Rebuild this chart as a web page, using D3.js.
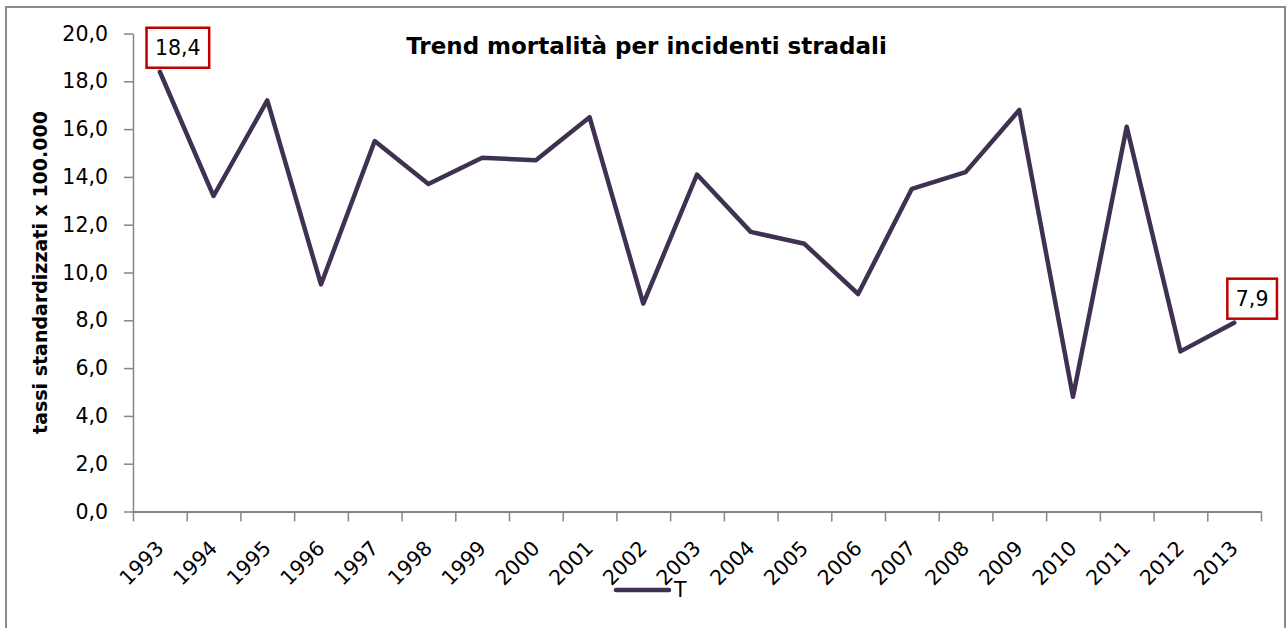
<!DOCTYPE html>
<html lang="it">
<head>
<meta charset="utf-8">
<title>Trend mortalità per incidenti stradali</title>
<script src="https://cdn.jsdelivr.net/npm/d3@7"></script>
<style>
  html, body { margin: 0; padding: 0; background: #fff; }
  svg { display: block; }
  text { font-family: "DejaVu Sans", Verdana, sans-serif; fill: #000; }
</style>
</head>
<body>
<svg id="chart" width="1287" height="628"></svg>
<script>
// Anni e tassi standardizzati di mortalità (x 100.000)
const years = ["1993","1994","1995","1996","1997","1998","1999","2000","2001","2002","2003",
               "2004","2005","2006","2007","2008","2009","2010","2011","2012","2013"];
const rates = [18.4, 13.2, 17.2, 9.5, 15.5, 13.7, 14.8, 14.7, 16.5, 8.7, 14.1,
               11.7, 11.2, 9.1, 13.5, 14.2, 16.8, 4.8, 16.1, 6.7, 7.9];
const yTicks = [0, 2, 4, 6, 8, 10, 12, 14, 16, 18, 20];
const labelledYears = ["1993", "2013"];
const seriesName = "T";
const title = "Trend mortalità per incidenti stradali";
const yTitle = "tassi standardizzati x 100.000";

const W = 1287, H = 628;
const plot = { left: 133, right: 1261, top: 33.5, bottom: 511.5 };
const lineColor = "#3f3151";
const axisColor = "#868686";
const fmt = v => v.toFixed(1).replace(".", ",");

const svg = d3.select("#chart");

// cornice esterna
svg.append("rect")
  .attr("x", 6).attr("y", 7)
  .attr("width", W - 8).attr("height", H + 20)
  .attr("fill", "none").attr("stroke", "#8a8a8a").attr("stroke-width", 2);

const x = d3.scaleBand().domain(years).range([plot.left, plot.right]).padding(0);
const xEdges = d3.scaleLinear().domain([0, years.length]).range([plot.left, plot.right]);
const y = d3.scaleLinear().domain([0, 20]).range([plot.bottom, plot.top]);

// asse Y
const gy = svg.append("g")
  .attr("transform", `translate(${plot.left},0)`)
  .call(d3.axisLeft(y).tickValues(yTicks).tickFormat(fmt).tickSizeInner(9).tickSizeOuter(0).tickPadding(16));
gy.select(".domain").attr("stroke", axisColor).attr("stroke-width", 1.5);
gy.selectAll(".tick line").attr("stroke", axisColor).attr("stroke-width", 1.5);
gy.selectAll(".tick text").style("font-size", "20.5px").attr("fill", "#000");

// asse X: tacche tra le categorie
const gxTicks = svg.append("g")
  .attr("transform", `translate(0,${plot.bottom})`)
  .call(d3.axisBottom(xEdges).tickValues(d3.range(years.length + 1)).tickFormat("").tickSizeInner(10).tickSizeOuter(0));
gxTicks.select(".domain").attr("stroke", axisColor).attr("stroke-width", 2);
gxTicks.selectAll(".tick line").attr("stroke", axisColor).attr("stroke-width", 1.5);

// etichette degli anni, ruotate di 45°
const gxLabels = svg.append("g")
  .attr("transform", `translate(0,${plot.bottom})`)
  .call(d3.axisBottom(x).tickSize(0).tickPadding(0));
gxLabels.select(".domain").remove();
gxLabels.selectAll(".tick text")
  .style("font-size", "20.5px")
  .attr("text-anchor", "end")
  .attr("dy", null)
  .attr("y", 0)
  .attr("transform", "translate(5,38) rotate(-45)");

// serie
const pts = years.map((yr, i) => ({ year: yr, v: rates[i] }));
const line = d3.line()
  .x(d => x(d.year) + x.bandwidth() / 2)
  .y(d => y(d.v));
svg.append("path")
  .datum(pts)
  .attr("d", line)
  .attr("fill", "none")
  .attr("stroke", lineColor)
  .attr("stroke-width", 4.5)
  .attr("stroke-linejoin", "round")
  .attr("stroke-linecap", "round");

// etichette dei valori nel riquadro rosso
const labels = svg.append("g");
pts.filter(d => labelledYears.includes(d.year)).forEach(d => {
  const cx = x(d.year) + x.bandwidth() / 2 + 18;
  const cy = y(d.v) - 24;
  const g = labels.append("g");
  const t = g.append("text")
    .attr("x", cx).attr("y", cy)
    .attr("text-anchor", "middle")
    .attr("dy", "0.36em")
    .style("font-size", "20.5px")
    .text(fmt(d.v));
  const w = t.node().getComputedTextLength() + 17;
  g.insert("rect", "text")
    .attr("x", cx - w / 2).attr("y", cy - 20)
    .attr("width", w).attr("height", 40)
    .attr("fill", "#fff")
    .attr("stroke", "#c00000")
    .attr("stroke-width", 2.5);
});

// titolo
svg.append("text")
  .attr("x", 646.5).attr("y", 54)
  .attr("text-anchor", "middle")
  .style("font-size", "23px").style("font-weight", "bold")
  .text(title);

// titolo asse Y
svg.append("text")
  .attr("transform", `translate(47,${(plot.top + plot.bottom) / 2}) rotate(-90)`)
  .attr("text-anchor", "middle")
  .style("font-size", "19px").style("font-weight", "bold")
  .text(yTitle);

// legenda
const leg = svg.append("g");
leg.append("line")
  .attr("x1", 616).attr("x2", 669).attr("y1", 590).attr("y2", 590)
  .attr("stroke", lineColor).attr("stroke-width", 4.5).attr("stroke-linecap", "round");
leg.append("text")
  .attr("x", 674).attr("y", 597)
  .style("font-size", "20.5px")
  .text(seriesName);
</script>
</body>
</html>
